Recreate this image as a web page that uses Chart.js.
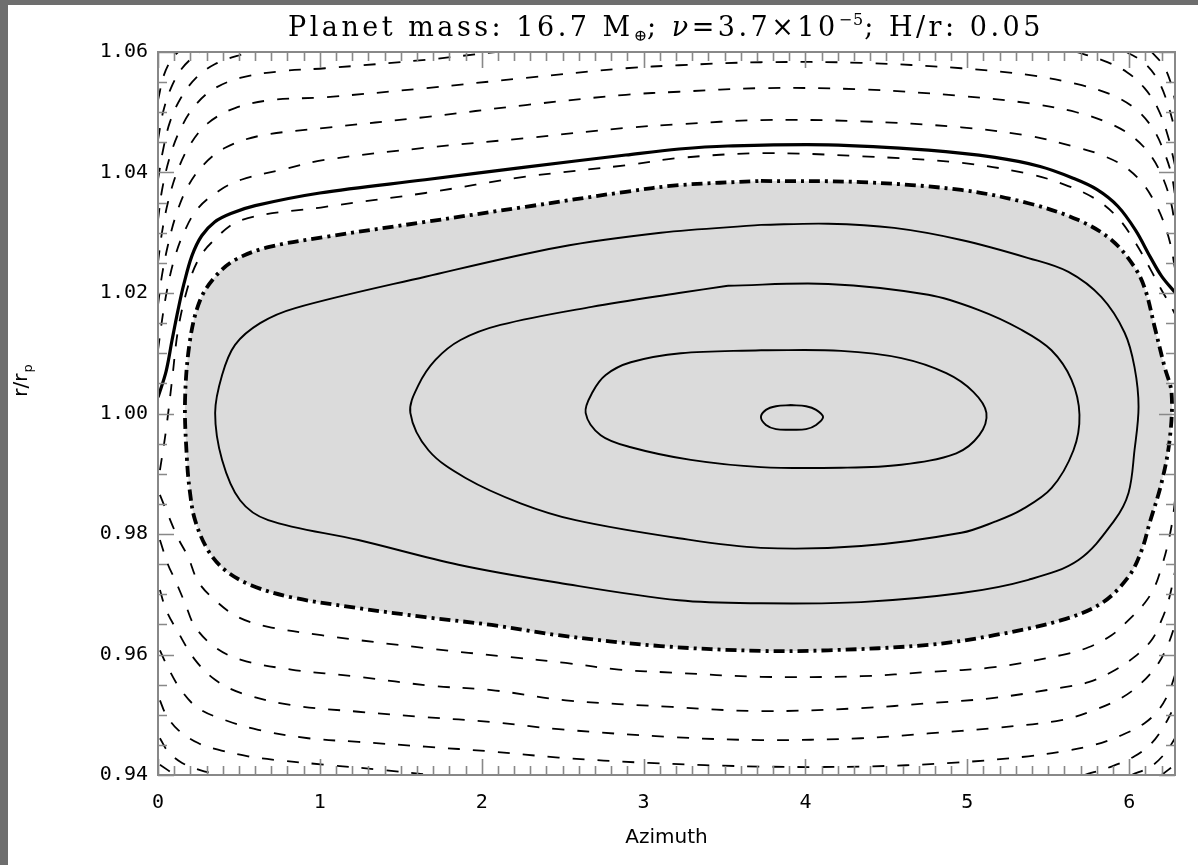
<!DOCTYPE html>
<html>
<head>
<meta charset="utf-8">
<script src="https://cdn.jsdelivr.net/npm/chart.js@4.4.1/dist/chart.umd.min.js"></script>
<style>
  html, body { margin: 0; padding: 0; background: #fff; }
  #wrap { position: relative; width: 1198px; height: 865px; overflow: hidden; }
  #plot { position: absolute; left: 0; top: 0; }
  #title {
    position: absolute; left: 288px; top: 10px; white-space: nowrap;
    font-family: 'DejaVu Serif', serif; font-size: 27px; letter-spacing: 3.5px; color: #000;
  }
  #title sub { font-size: 16px; vertical-align: -5px; letter-spacing: 0; }
  #title sup { font-size: 16px; vertical-align: 11px; letter-spacing: 1px; }
</style>
</head>
<body>
<div id="wrap">
  <canvas id="plot" width="1198" height="865"></canvas>
  <div id="title">Planet mass: 16.7 M<sub>⊕</sub>; <i>ν</i>=3.7×10<sup>−5</sup>; H/r: 0.05</div>
</div>
<script>
// axis ticks
const xTicks = [0, 1, 2, 3, 4, 5, 6];
const yTicks = [0.94, 0.96, 0.98, 1.00, 1.02, 1.04, 1.06];
const xMax = 2 * Math.PI;
const xMinorStep = 0.1;
const yMinorStep = 0.005;

// streamline passing through the planet (thick solid)
const boundaryLine = [
  [0, 1.0027], [0.05, 1.0070], [0.087, 1.0122], [0.124, 1.0172], [0.16, 1.0215],
  [0.21, 1.0262], [0.27, 1.0295], [0.35, 1.0318], [0.45, 1.0332], [0.6, 1.0345],
  [1.0, 1.0366], [1.65, 1.0388], [2.27, 1.0409], [2.89, 1.0429], [3.22, 1.0439],
  [3.52, 1.0444], [4.14, 1.0446], [4.76, 1.0437], [5.17, 1.0425], [5.45, 1.0410],
  [5.65, 1.0391], [5.8, 1.0372], [5.93, 1.0344], [6.04, 1.0304], [6.13, 1.0260],
  [6.2, 1.0228], [6.283, 1.0201]
];

// horseshoe separatrix (dash-dot, shaded inside)
const separatrix = [
  [3.725, 1.0386], [4.344, 1.0384], [4.963, 1.0371], [5.377, 1.0349], [5.687, 1.0321],
  [5.891, 1.0288], [6.033, 1.0243], [6.1, 1.0205], [6.157, 1.0144], [6.219, 1.0077],
  [6.262, 1.0034], [6.25, 0.9956], [6.2, 0.9885], [6.126, 0.9818], [6.077, 0.9773],
  [5.996, 0.9729], [5.829, 0.9685], [5.582, 0.9657], [5.167, 0.9632], [4.759, 0.9616],
  [4.14, 0.9607], [3.725, 0.9606], [3.106, 0.9614], [2.475, 0.9632], [2.061, 0.9649],
  [1.652, 0.9662], [1.238, 0.9677], [0.823, 0.9695], [0.575, 0.9715], [0.415, 0.9740],
  [0.309, 0.9773], [0.229, 0.9823], [0.198, 0.9868], [0.179, 0.9923], [0.167, 1.0022],
  [0.198, 1.0122], [0.26, 1.0188], [0.353, 1.0227], [0.476, 1.0255], [0.681, 1.0276],
  [1.033, 1.0293], [1.652, 1.0318], [2.271, 1.0343], [2.89, 1.0368], [3.218, 1.0379],
  [3.725, 1.0386]
];

// closed orbits inside the horseshoe region
const orbitA = [
  [3.725, 1.0313], [4.14, 1.0315], [4.548, 1.0308], [4.963, 1.0288], [5.377, 1.0258],
  [5.625, 1.0235], [5.829, 1.0193], [5.972, 1.0134], [6.033, 1.0077], [6.058, 1.0011],
  [6.033, 0.9939], [5.996, 0.9868], [5.91, 0.9823], [5.687, 0.9757], [5.377, 0.9724],
  [4.963, 0.9702], [4.344, 0.9687], [3.725, 0.9685], [3.218, 0.9690], [2.475, 0.9719],
  [1.856, 0.9749], [1.238, 0.9790], [0.681, 0.9823], [0.507, 0.9856], [0.396, 0.9923],
  [0.353, 1.0001], [0.396, 1.0064], [0.476, 1.0114], [0.631, 1.0150], [0.848, 1.0175],
  [1.652, 1.0227], [2.475, 1.0276], [3.106, 1.0300], [3.725, 1.0313]
];
const orbitB = [
  [3.521, 1.0212], [4.14, 1.0215], [4.759, 1.0197], [5.068, 1.0172], [5.334, 1.0139],
  [5.52, 1.0105], [5.644, 1.0056], [5.693, 0.9998], [5.656, 0.9939], [5.52, 0.9876],
  [5.334, 0.9840], [5.167, 0.9820], [4.963, 0.9802], [4.344, 0.9780], [3.725, 0.9777],
  [3.218, 0.9793], [2.58, 0.9823], [2.24, 0.9851], [1.9, 0.9893], [1.671, 0.9939],
  [1.559, 1.0001], [1.609, 1.0047], [1.714, 1.0089], [1.869, 1.0122], [2.116, 1.0147],
  [2.679, 1.0177], [3.218, 1.0200], [3.521, 1.0212]
];
const orbitC = [
  [3.725, 1.0105], [4.22, 1.0104], [4.592, 1.0092], [4.87, 1.0067], [5.037, 1.0036],
  [5.118, 1.0001], [5.074, 0.9964], [4.932, 0.9934], [4.592, 0.9915], [4.22, 0.9910],
  [3.725, 0.9911], [3.292, 0.9923], [2.921, 0.9944], [2.735, 0.9964], [2.642, 1.0001],
  [2.686, 1.0036], [2.766, 1.0064], [2.921, 1.0085], [3.23, 1.0100], [3.725, 1.0105]
];
const orbitD = [
  [3.911, 1.0014], [4.004, 1.0012], [4.066, 1.0006], [4.109, 0.9994], [4.066, 0.9981],
  [4.004, 0.9974], [3.911, 0.9973], [3.818, 0.9974], [3.756, 0.9981], [3.725, 0.9994],
  [3.756, 1.0006], [3.818, 1.0012], [3.911, 1.0014]
];

// circulating streamlines outside, r > 1 (dashed)
const outer1 = [
  [0.012, 0.9906], [0.05, 0.9973], [0.087, 1.0056], [0.124, 1.0139], [0.179, 1.0205],
  [0.241, 1.0251], [0.328, 1.0283], [0.514, 1.0321], [1.033, 1.0343], [1.652, 1.0366],
  [2.271, 1.0393], [2.89, 1.0412], [3.218, 1.0424], [3.725, 1.0432], [4.344, 1.0427],
  [4.963, 1.0416], [5.377, 1.0398], [5.6, 1.0380], [5.786, 1.0357], [5.93, 1.0325],
  [6.04, 1.0283], [6.13, 1.0240], [6.2, 1.0205], [6.25, 1.0182], [6.283, 1.0165]
];
const outer2 = [
  [0, 1.0105], [0.025, 1.0155], [0.056, 1.0205], [0.099, 1.0255], [0.161, 1.0301],
  [0.248, 1.0341], [0.384, 1.0371], [0.514, 1.0388], [0.755, 1.0404], [1.033, 1.0421],
  [1.652, 1.0441], [2.271, 1.0457], [2.89, 1.0474], [3.218, 1.0480], [3.725, 1.0487],
  [4.344, 1.0485], [4.963, 1.0475], [5.377, 1.0461], [5.674, 1.0442], [5.829, 1.0429],
  [5.965, 1.0411], [6.077, 1.0384], [6.151, 1.0354], [6.213, 1.0318], [6.256, 1.0280],
  [6.283, 1.0241]
];
const outer3 = [
  [0, 1.0180], [0.025, 1.0230], [0.062, 1.0280], [0.111, 1.0329], [0.179, 1.0374],
  [0.278, 1.0412], [0.415, 1.0441], [0.631, 1.0461], [1.033, 1.0474], [1.652, 1.0492],
  [2.271, 1.0512], [2.89, 1.0529], [3.218, 1.0534], [3.725, 1.0540], [4.344, 1.0538],
  [4.963, 1.0527], [5.377, 1.0515], [5.674, 1.0500], [5.891, 1.0480], [6.033, 1.0457],
  [6.139, 1.0426], [6.213, 1.0388], [6.262, 1.0346], [6.283, 1.0308]
];
const outer4 = [
  [0, 1.0251], [0.025, 1.0301], [0.062, 1.0351], [0.118, 1.0401], [0.198, 1.0446],
  [0.309, 1.0482], [0.476, 1.0507], [0.693, 1.0520], [1.033, 1.0525], [1.652, 1.0540],
  [2.271, 1.0557], [2.89, 1.0573], [3.218, 1.0578], [3.725, 1.0583], [4.344, 1.0582],
  [4.963, 1.0573], [5.377, 1.0562], [5.674, 1.0547], [5.891, 1.0529], [6.046, 1.0504],
  [6.151, 1.0471], [6.219, 1.0432], [6.262, 1.0396], [6.283, 1.0363]
];
const outer5Left = [
  [0, 1.0321], [0.025, 1.0371], [0.068, 1.0421], [0.13, 1.0467], [0.217, 1.0507],
  [0.334, 1.0537], [0.507, 1.0557], [0.755, 1.0568], [1.033, 1.0573], [1.652, 1.0587],
  [2.085, 1.0600]
];
const outer5Right = [
  [5.674, 1.0600], [5.829, 1.0587], [5.984, 1.0567], [6.095, 1.0540], [6.176, 1.0507],
  [6.238, 1.0462], [6.283, 1.0412]
];
const outer6Left = [
  [0, 1.0388], [0.031, 1.0437], [0.074, 1.0484], [0.142, 1.0524], [0.235, 1.0557],
  [0.353, 1.0580], [0.507, 1.0595], [0.6, 1.0600]
];
const outer6Right = [
  [5.984, 1.0600], [6.089, 1.0583], [6.17, 1.0557], [6.231, 1.0520], [6.283, 1.0471]
];
const outer7Left = [
  [0, 1.0454], [0.031, 1.0500], [0.08, 1.0540], [0.149, 1.0573], [0.235, 1.0596], [0.26, 1.0600]
];
const outer7Right = [[6.139, 1.0600], [6.213, 1.0577], [6.262, 1.0545], [6.283, 1.0520]];
const outer8Left = [[0, 1.0520], [0.037, 1.0562], [0.087, 1.0590], [0.124, 1.0600]];

// circulating streamlines inside, r < 1 (dashed)
const inner1 = [
  [0.012, 0.9865], [0.062, 0.9832], [0.124, 0.9793], [0.186, 0.9762], [0.248, 0.9721],
  [0.353, 0.9690], [0.495, 0.9662], [0.681, 0.9646], [1.009, 0.9632], [1.671, 0.9610],
  [2.166, 0.9596], [2.519, 0.9586], [2.847, 0.9575], [3.175, 0.9570], [3.725, 0.9563],
  [4.344, 0.9564], [4.759, 0.9571], [5.167, 0.9579], [5.582, 0.9599], [5.749, 0.9612],
  [5.891, 0.9632], [5.996, 0.9657], [6.095, 0.9685], [6.157, 0.9712], [6.2, 0.9745],
  [6.238, 0.9782], [6.268, 0.9823], [6.283, 0.9856]
];
const inner2 = [
  [0.012, 0.9790], [0.062, 0.9749], [0.105, 0.9724], [0.167, 0.9685], [0.229, 0.9646],
  [0.353, 0.9612], [0.514, 0.9591], [0.823, 0.9575], [1.238, 0.9563], [1.689, 0.9548],
  [2.061, 0.9541], [2.519, 0.9524], [3.175, 0.9513], [3.725, 0.9506], [4.344, 0.9511],
  [4.759, 0.9519], [5.167, 0.9528], [5.582, 0.9545], [5.749, 0.9554], [5.891, 0.9571],
  [6.033, 0.9596], [6.139, 0.9624], [6.2, 0.9657], [6.244, 0.9690], [6.283, 0.9737]
];
const inner3 = [
  [0.012, 0.9707], [0.05, 0.9674], [0.124, 0.9637], [0.229, 0.9591], [0.353, 0.9558],
  [0.514, 0.9536], [0.823, 0.9516], [1.238, 0.9505], [1.652, 0.9496], [2.061, 0.9488],
  [2.475, 0.9476], [3.175, 0.9463], [3.725, 0.9458], [4.344, 0.9461], [4.759, 0.9469],
  [5.167, 0.9478], [5.582, 0.9491], [5.786, 0.9508], [5.953, 0.9528], [6.077, 0.9553],
  [6.182, 0.9586], [6.244, 0.9619], [6.283, 0.9649]
];
const inner4 = [
  [0.012, 0.9607], [0.062, 0.9578], [0.142, 0.9541], [0.248, 0.9511], [0.415, 0.9491],
  [0.619, 0.9475], [0.928, 0.9461], [1.238, 0.9455], [1.652, 0.9447], [2.061, 0.9439],
  [2.475, 0.9429], [3.032, 0.9420], [3.725, 0.9414], [4.344, 0.9414], [4.901, 0.9420],
  [5.377, 0.9431], [5.582, 0.9439], [5.786, 0.9450], [5.953, 0.9466], [6.095, 0.9486],
  [6.182, 0.9508], [6.244, 0.9536], [6.283, 0.9566]
];
const inner5Left = [
  [0.012, 0.9524], [0.05, 0.9500], [0.124, 0.9475], [0.248, 0.9453], [0.371, 0.9442],
  [0.557, 0.9431], [0.724, 0.9425], [1.033, 0.9417], [1.405, 0.9408], [1.683, 0.9400]
];
const inner5Right = [
  [5.724, 0.9400], [5.891, 0.9414], [6.033, 0.9431], [6.139, 0.9453], [6.219, 0.9483], [6.283, 0.9516]
];
const inner6Left = [[0.012, 0.9461], [0.062, 0.9439], [0.149, 0.9420], [0.26, 0.9408], [0.384, 0.9400]];
const inner6Right = [[6.015, 0.9400], [6.139, 0.9415], [6.231, 0.9439], [6.283, 0.9461]];
const inner7Left = [[0.012, 0.9417], [0.105, 0.9400]];
const inner7Right = [[6.2, 0.9400], [6.283, 0.9417]];

const dashedCurves = [
  outer1, outer2, outer3, outer4, outer5Left, outer5Right, outer6Left, outer6Right,
  outer7Left, outer7Right, outer8Left,
  inner1, inner2, inner3, inner4, inner5Left, inner5Right, inner6Left, inner6Right,
  inner7Left, inner7Right
];
const orbits = [orbitA, orbitB, orbitC, orbitD];

const tickFont = { family: 'DejaVu Sans Mono', size: 20 };

function curve(points, style) {
  return Object.assign({
    data: points.map(([x, y]) => ({ x, y })),
    showLine: true,
    pointRadius: 0,
    pointHoverRadius: 0,
    borderColor: '#000',
    borderWidth: 1.8,
    tension: 0.35,
    fill: false,
    order: 0,
  }, style);
}

const datasets = [
  curve(separatrix, { borderWidth: 3.8, borderDash: [11, 5, 3, 5] }),
  curve(boundaryLine, { borderWidth: 3.2 }),
  ...orbits.map((p) => curve(p, { borderWidth: 1.9 })),
  ...dashedCurves.map((p) => curve(p, { borderWidth: 1.8, borderDash: [12, 13] })),
  // shaded horseshoe region, drawn underneath everything else
  curve(separatrix, { borderWidth: 0, fill: 'shape', backgroundColor: '#dbdbdb', order: 5 }),
];

// page strips, plot frame, inward ticks on all four sides and the r/r_p label
const framePlugin = {
  id: 'frame',
  beforeDraw(chart) {
    const { ctx, width, height } = chart;
    ctx.save();
    ctx.fillStyle = '#fff';
    ctx.fillRect(0, 0, width, height);
    ctx.fillStyle = '#6e6e6e';
    ctx.fillRect(0, 0, 8, height);
    ctx.fillRect(0, 0, width, 5);
    ctx.restore();
  },
  afterDatasetsDraw(chart) {
    const { ctx, chartArea: a, scales: { x, y } } = chart;
    ctx.save();
    ctx.strokeStyle = '#888';
    ctx.lineWidth = 2;
    ctx.strokeRect(a.left, a.top, a.right - a.left, a.bottom - a.top);
    ctx.beginPath();
    const xTick = (v, len) => {
      const px = Math.round(x.getPixelForValue(v)) + 0.5;
      ctx.moveTo(px, a.bottom); ctx.lineTo(px, a.bottom - len);
      ctx.moveTo(px, a.top); ctx.lineTo(px, a.top + len);
    };
    const yTick = (v, len) => {
      const py = Math.round(y.getPixelForValue(v)) + 0.5;
      ctx.moveTo(a.left, py); ctx.lineTo(a.left + len, py);
      ctx.moveTo(a.right, py); ctx.lineTo(a.right - len, py);
    };
    for (let k = 1; k * xMinorStep < xMax; k++) {
      if (k % 10 !== 0) xTick(k * xMinorStep, 9);
    }
    xTicks.forEach((v) => xTick(v, 16));
    const yMin = yTicks[0];
    const yTop = yTicks[yTicks.length - 1];
    for (let k = 1; yMin + k * yMinorStep < yTop - 1e-9; k++) {
      if (k % 4 !== 0) yTick(yMin + k * yMinorStep, 9);
    }
    yTicks.forEach((v) => yTick(v, 16));
    ctx.lineWidth = 1.6;
    ctx.stroke();

    // rotated y-axis label with a subscript p
    ctx.translate(21, 381);
    ctx.rotate(-Math.PI / 2);
    ctx.fillStyle = '#000';
    ctx.textBaseline = 'alphabetic';
    const main = 'r/r';
    ctx.font = '20px "DejaVu Sans"';
    const wMain = ctx.measureText(main).width;
    ctx.font = '13px "DejaVu Sans"';
    const wSub = ctx.measureText('p').width;
    const start = -(wMain + wSub) / 2;
    ctx.font = '20px "DejaVu Sans"';
    ctx.fillText(main, start, 6);
    ctx.font = '13px "DejaVu Sans"';
    ctx.fillText('p', start + wMain + 1, 11);
    ctx.restore();
  },
};

new Chart(document.getElementById('plot'), {
  type: 'scatter',
  data: { datasets },
  plugins: [framePlugin],
  options: {
    responsive: false,
    animation: false,
    devicePixelRatio: 1,
    layout: { padding: { left: 0, top: 52, right: 23, bottom: 0 } },
    plugins: {
      legend: { display: false },
      tooltip: { enabled: false },
    },
    scales: {
      x: {
        type: 'linear',
        min: 0,
        max: xMax,
        afterBuildTicks(scale) { scale.ticks = xTicks.map((v) => ({ value: v })); },
        afterFit(scale) { scale.height = 90; },
        grid: { display: false, drawTicks: false },
        border: { display: false },
        ticks: { color: '#000', font: tickFont, padding: 16, maxRotation: 0, callback: (v) => String(v) },
        title: {
          display: true, text: 'Azimuth', color: '#000',
          font: { family: 'DejaVu Sans', size: 20 }, padding: { top: 0, bottom: 15 },
        },
      },
      y: {
        type: 'linear',
        min: yTicks[0],
        max: yTicks[yTicks.length - 1],
        afterBuildTicks(scale) { scale.ticks = yTicks.map((v) => ({ value: v })); },
        afterFit(scale) { scale.width = 158; },
        grid: { display: false, drawTicks: false },
        border: { display: false },
        ticks: { color: '#000', font: tickFont, padding: 10, callback: (v) => v.toFixed(2) },
      },
    },
  },
});
</script>
</body>
</html>
